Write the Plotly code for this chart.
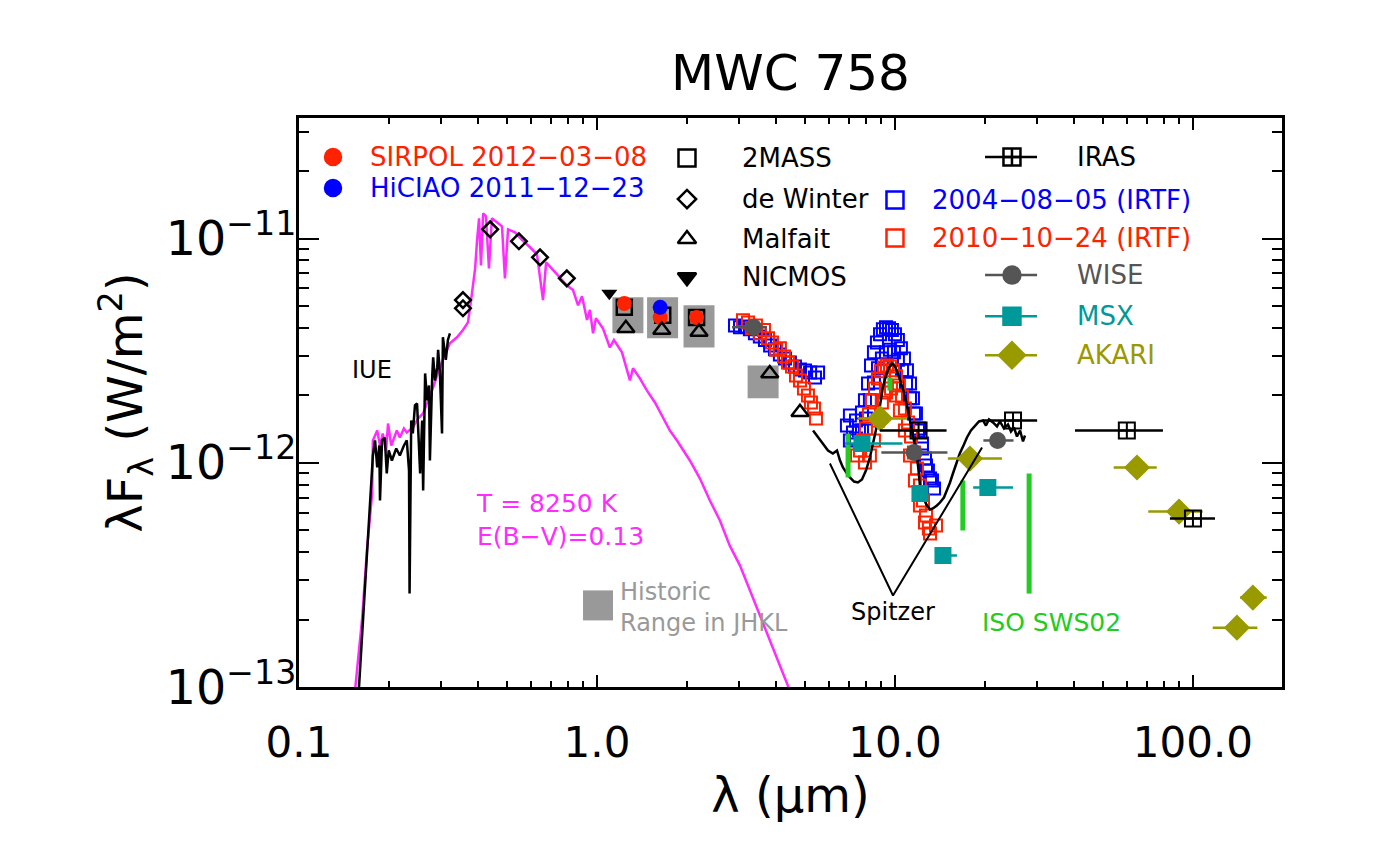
import numpy as np
import plotly.graph_objects as go

# wavelengths in micron, lambda*F_lambda in units of 1e-12 W/m^2

# Kurucz model (T = 8250 K, E(B-V)=0.13)
model_lam = [0.153, 0.163, 0.169, 0.176, 0.177, 0.183, 0.187, 0.191, 0.196, 0.199, 0.204, 0.207, 0.213,
             0.218, 0.225, 0.230, 0.241, 0.251, 0.261, 0.271, 0.282, 0.293, 0.304, 0.321, 0.339, 0.355,
             0.369, 0.378, 0.384, 0.390, 0.396, 0.402, 0.408, 0.415, 0.424, 0.434, 0.444, 0.462, 0.480,
             0.491, 0.503, 0.531, 0.560, 0.596, 0.629, 0.659, 0.675, 0.712, 0.751, 0.792, 0.831, 0.864,
             0.891, 0.926, 0.947, 0.970, 0.992, 1.047, 1.105, 1.14, 1.213, 1.29, 1.321, 1.393, 1.472,
             1.565, 1.665, 1.757, 1.856, 2.05, 2.216, 2.393, 2.586, 2.79, 3.02, 3.26, 3.52, 3.81, 4.11, 4.44]
model_flux = [0.087, 0.204, 0.406, 0.729, 1.258, 1.394, 1.195, 1.352, 1.135, 1.497, 1.195, 1.258, 1.394,
              1.297, 1.422, 1.366, 1.437, 1.577, 1.660, 1.90, 2.169, 2.530, 2.88, 3.41, 3.63, 3.91,
              4.23, 5.32, 6.32, 7.37, 9.87, 12.32, 7.60, 12.97, 12.58, 7.37, 12.32, 11.82, 11.35,
              6.65, 11.0, 10.67, 9.87, 9.15, 8.51, 5.32, 7.84, 7.25, 6.72, 6.19, 5.90, 5.04,
              5.53, 4.34, 4.81, 3.78, 4.41, 3.98, 3.27, 3.53, 3.11, 2.33, 2.64, 2.38, 2.10,
              1.858, 1.593, 1.394, 1.258, 1.024, 0.851, 0.679, 0.553, 0.427, 0.348, 0.269, 0.208, 0.161, 0.1245, 0.0963]

# IUE spectrum
iue_lam = [0.158, 0.161, 0.164, 0.1665, 0.169, 0.172, 0.1745, 0.177, 0.180, 0.183, 0.186, 0.187, 0.190,
           0.194, 0.197, 0.200, 0.205, 0.212, 0.218, 0.225, 0.230, 0.234, 0.235, 0.238, 0.241, 0.245,
           0.249, 0.253, 0.255, 0.259, 0.261, 0.265, 0.269, 0.273, 0.275, 0.280, 0.282, 0.286, 0.291,
           0.293, 0.297, 0.302, 0.304, 0.311, 0.316, 0.321]
iue_flux = [0.087, 0.131, 0.198, 0.289, 0.427, 0.612, 0.851, 1.078, 1.258, 0.953, 1.195, 0.679, 1.258,
            1.297, 0.896, 1.135, 1.024, 1.158, 1.078, 1.195, 1.258, 0.924, 0.261, 1.545, 1.352, 1.803,
            1.840, 1.135, 0.896, 1.545, 0.752, 2.505, 1.90, 2.213, 1.024, 2.454, 2.952, 2.33, 2.664,
            3.19, 2.53, 1.352, 3.63, 2.88, 3.53, 3.78]

# Spitzer IRS spectrum
spitzer_lam = [5.31, 5.52, 5.73, 5.96, 6.19, 6.39, 6.54, 6.69, 6.90, 7.06, 7.29, 7.51, 7.75, 7.99, 8.24,
               8.50, 8.70, 8.91, 9.11, 9.33, 9.55, 9.77, 10.0, 10.23, 10.47, 10.72, 10.97, 11.23, 11.49,
               11.76, 11.95, 12.13, 12.42, 12.81, 13.11, 13.41, 13.83, 14.16, 14.60, 14.94, 15.3, 15.65,
               16.14, 16.5, 17.04, 17.44, 17.99, 18.55, 19.14, 19.74, 20.2, 20.68, 21.33, 22.0, 22.5,
               23.22, 23.95, 24.51, 25.08, 25.67, 26.3, 26.89, 27.31]
spitzer_flux = [1.394, 1.297, 1.22, 1.135, 1.10, 1.135, 1.024, 0.953, 0.896, 0.86, 0.825, 0.817, 0.843,
                0.924, 1.056, 1.258, 1.467, 1.803, 2.169, 2.454, 2.664, 2.776, 2.689, 2.505, 2.284, 2.06,
                1.803, 1.545, 1.324, 1.135, 0.973, 0.792, 0.700, 0.645, 0.619, 0.626, 0.645, 0.665, 0.700,
                0.752, 0.817, 0.896, 1.003, 1.10, 1.207, 1.297, 1.394, 1.467, 1.529, 1.545, 1.467, 1.561,
                1.513, 1.452, 1.529, 1.422, 1.483, 1.380, 1.437, 1.310, 1.394, 1.245, 1.324]

# IRTF 2004-08-05
irtf04_lam = [2.905, 3.02, 3.139, 3.26, 3.389, 3.52, 3.662, 3.81, 3.957, 4.11, 4.274, 4.44, 4.617, 4.80,
              4.99, 5.19, 5.39, 5.52,
              6.90, 7.06, 7.23, 7.40, 7.57, 7.75, 7.93, 8.12, 8.31, 8.50, 8.70, 8.91, 9.11, 9.33, 9.55,
              9.77, 10.0, 10.23, 10.47, 10.72, 10.97, 11.23, 11.49, 11.76, 12.04, 12.32, 12.61, 12.90, 13.31,
              7.06, 7.40, 7.75, 7.99, 8.24, 8.50, 8.77, 9.04, 9.33, 9.62, 9.92, 10.23, 10.56, 10.89,
              11.23, 11.58, 11.95, 12.32, 12.71, 13.11, 13.52]
irtf04_flux = [4.10, 4.02, 4.06, 3.94, 3.78, 3.66, 3.53, 3.34, 3.21, 3.04, 2.92, 2.80, 2.689, 2.61,
               2.58, 2.53, 2.40, 2.53,
               1.467, 1.626, 1.366, 1.545, 1.394, 1.677, 1.90, 2.26, 2.72, 3.11, 3.44, 3.74, 3.94, 4.02, 3.98,
               3.91, 3.74, 3.53, 3.24, 2.92, 2.59, 2.26, 1.94, 1.660, 1.422, 1.22, 1.045, 0.924, 0.834,
               1.258, 1.284, 1.394, 1.577, 1.90, 2.28, 2.64, 2.92, 3.11, 3.19, 3.11, 2.88, 2.59, 2.26,
               1.94, 1.660, 1.394, 1.158, 0.973, 0.851, 0.768]

# IRTF 2010-10-24
irtf10_lam = [3.09, 3.212, 3.312, 3.416, 3.52, 3.634, 3.749, 3.866, 3.988, 4.11, 4.242, 4.375, 4.512,
              4.654, 4.80, 4.95, 5.105, 5.225, 5.348, 5.431,
              7.46, 7.63, 7.81, 7.99, 8.18, 8.37, 8.57, 8.77, 8.97, 9.19, 9.40, 9.62, 9.85, 10.08, 10.31,
              10.56, 10.80, 11.06, 11.32, 11.58, 11.85, 12.13, 12.42, 12.71, 13.0,
              7.93, 8.24, 8.50, 8.77, 9.04, 9.33, 9.70, 10.08, 10.39, 10.80, 11.23, 11.67, 12.13, 12.61,
              13.11, 13.73]
irtf10_flux = [4.32, 4.23, 3.98, 4.10, 3.78, 3.91, 3.59, 3.44, 3.19, 3.24, 2.98, 2.80, 2.689,
               2.454, 2.33, 2.147, 1.998, 1.858, 1.747, 1.577,
               1.078, 1.135, 1.258, 1.422, 1.643, 1.90, 2.147, 2.38, 2.56, 2.664, 2.72, 2.689, 2.59, 2.43,
               2.213, 1.977, 1.747, 1.513, 1.310, 1.112, 0.943, 0.792, 0.679, 0.582, 0.509,
               1.003, 1.078, 1.258, 1.545, 1.858, 2.06, 2.147, 1.998, 1.71, 1.394, 1.078, 0.834, 0.645,
               0.541, 0.484, 0.525]

# ISO SWS02 segments (wavelength, low, high)
iso_lam = [6.96, 9.62, 16.9, 28.2]
iso_lo = [0.86, 2.10, 0.499, 0.261]
iso_hi = [1.35, 2.40, 0.834, 0.896]

# photometry
dewinter_lam = [0.355, 0.355, 0.438, 0.547, 0.644, 0.792]
dewinter_flux = [5.32, 4.89, 11.0, 9.73, 8.25, 6.65]

twomass_lam = [1.235, 1.662, 2.159]
twomass_flux = [4.94, 4.55, 4.45]

sirpol_lam = [1.235, 1.63, 2.159]
sirpol_flux = [5.14, 4.45, 4.45]

hiciao_lam = [1.63]
hiciao_flux = [4.94]

malfait_lam = [1.25, 1.65, 2.2, 3.8, 4.8]
malfait_flux = [3.98, 3.91, 3.83, 2.50, 1.68]

nicmos_lam = [1.1]
nicmos_flux = [5.70]

hist_lam = [1.27, 1.66, 2.20, 3.61]
hist_lo = [3.78, 3.59, 3.27, 1.94]
hist_hi = [5.47, 5.47, 5.04, 2.72]

wise_lam = [3.35, 11.6, 22.1]
wise_flux = [4.02, 1.112, 1.258]
wise_minus = [0.51, 2.6, 2.3]
wise_plus = [0.37, 3.4, 2.9]

msx_lam = [7.75, 12.13, 14.49, 20.5]
msx_flux = [1.22, 0.729, 0.386, 0.776]
msx_minus = [0.95, 0.6, 0.66, 2.2]
msx_plus = [2.85, 0.6, 1.65, 4.4]

akari_lam = [8.91, 17.85, 64.9, 89.8, 140.5, 158.9]
akari_flux = [1.577, 1.045, 0.953, 0.606, 0.184, 0.2505]
akari_minus = [1.4, 2.8, 10.7, 19.0, 24.0, 15.0]
akari_plus = [2.06, 5.0, 10.7, 18.0, 24.0, 18.0]

iras_lam = [12.0, 24.9, 60.0, 100.0]
iras_flux = [1.394, 1.545, 1.394, 0.564]
iras_minus = [3.1, 5.2, 19.8, 16.3]
iras_plus = [2.9, 5.1, 19.3, 18.6]

# pointer lines for the "Spitzer" label
spitzer_ptr_lam = [6.05, 9.85, 19.6]
spitzer_ptr_flux = [0.993, 0.256, 1.17]

FONT = "DejaVu Sans"
RED = "#ff2200"
BLUE = "#0000ff"
MAGENTA = "#ff2bff"
GRAY = "#999999"
WISE_C = "#555555"
TEAL = "#009999"
OLIVE = "#999900"
GREEN = "#22cc22"


def si(vals):
    return [None if v is None else v * 1e-12 for v in vals]


fig = go.Figure()

# historic range boxes (fixed width in log space)
half = 10 ** 0.052
hx, hy = [], []
for lam, lo, hi in zip(hist_lam, hist_lo, hist_hi):
    hx += [lam / half, lam * half, lam * half, lam / half, lam / half, None]
    hy += [lo, lo, hi, hi, lo, None]
fig.add_trace(go.Scatter(x=hx, y=si(hy), mode="lines", fill="toself", fillcolor=GRAY,
                         line=dict(width=0), showlegend=False))

# spectra
fig.add_trace(go.Scatter(x=model_lam, y=si(model_flux), mode="lines",
                         line=dict(color=MAGENTA, width=2.5), showlegend=False))
fig.add_trace(go.Scatter(x=iue_lam, y=si(iue_flux), mode="lines",
                         line=dict(color="black", width=2.5), showlegend=False))
fig.add_trace(go.Scatter(x=irtf04_lam, y=si(irtf04_flux), mode="markers",
                         marker=dict(symbol="square-open", size=12, color=BLUE, line=dict(width=2)),
                         showlegend=False))
fig.add_trace(go.Scatter(x=irtf10_lam, y=si(irtf10_flux), mode="markers",
                         marker=dict(symbol="square-open", size=12, color=RED, line=dict(width=2)),
                         showlegend=False))
fig.add_trace(go.Scatter(x=spitzer_lam, y=si(spitzer_flux), mode="lines",
                         line=dict(color="black", width=2.5), showlegend=False))

# ISO vertical segments
gx, gy = [], []
for lam, lo, hi in zip(iso_lam, iso_lo, iso_hi):
    gx += [lam, lam, None]
    gy += [lo, hi, None]
fig.add_trace(go.Scatter(x=gx, y=si(gy), mode="lines", line=dict(color=GREEN, width=5),
                         showlegend=False))

# photometry
fig.add_trace(go.Scatter(x=dewinter_lam, y=si(dewinter_flux), mode="markers",
                         marker=dict(symbol="diamond-open", size=12, color="black", line=dict(width=2.5)),
                         showlegend=False))
fig.add_trace(go.Scatter(x=twomass_lam, y=si(twomass_flux), mode="markers",
                         marker=dict(symbol="square-open", size=15, color="black", line=dict(width=2.5)),
                         showlegend=False))
fig.add_trace(go.Scatter(x=sirpol_lam, y=si(sirpol_flux), mode="markers",
                         marker=dict(symbol="circle", size=15, color=RED), showlegend=False))
fig.add_trace(go.Scatter(x=hiciao_lam, y=si(hiciao_flux), mode="markers",
                         marker=dict(symbol="circle", size=15, color=BLUE), showlegend=False))
fig.add_trace(go.Scatter(x=malfait_lam, y=si(malfait_flux), mode="markers",
                         marker=dict(symbol="triangle-up-open", size=15, color="black", line=dict(width=2.5)),
                         showlegend=False))
fig.add_trace(go.Scatter(x=nicmos_lam, y=si(nicmos_flux), mode="markers",
                         marker=dict(symbol="triangle-down", size=14, color="black"), showlegend=False))


def with_xerr(lam, flux, minus, plus, color, symbol, size):
    fig.add_trace(go.Scatter(
        x=lam, y=si(flux), mode="markers",
        marker=dict(symbol=symbol, size=size, color=color, line=dict(width=2, color=color)),
        error_x=dict(type="data", symmetric=False, array=plus, arrayminus=minus,
                     color=color, thickness=2.5, width=0),
        showlegend=False))


with_xerr(wise_lam, wise_flux, wise_minus, wise_plus, WISE_C, "circle", 15)
with_xerr(msx_lam, msx_flux, msx_minus, msx_plus, TEAL, "square", 15)
with_xerr(akari_lam, akari_flux, akari_minus, akari_plus, OLIVE, "diamond", 18)
with_xerr(iras_lam, iras_flux, iras_minus, iras_plus, "black", "square-cross-open", 16)

fig.add_trace(go.Scatter(x=spitzer_ptr_lam, y=si(spitzer_ptr_flux), mode="lines",
                         line=dict(color="black", width=2), showlegend=False))

# ---- hand-made legend on an overlay axis (0..1 over the plot area) ----
marker_items = [
    # x, y, symbol, size, color, label, text x, text color
    (0.0346, 0.9314, "circle", 16, RED, "SIRPOL 2012−03−08", 0.0702, RED),
    (0.0346, 0.8769, "circle", 16, BLUE, "HiCIAO 2011−12−23", 0.0702, BLUE),
    (0.3947, 0.9296, "square-open", 17, "black", "2MASS", 0.4486, "black"),
    (0.3947, 0.8575, "diamond-open", 14, "black", "de Winter", 0.4486, "black"),
    (0.3947, 0.7872, "triangle-up-open", 16, "black", "Malfait", 0.4486, "black"),
    (0.3947, 0.7203, "triangle-down", 16, "black", "NICMOS", 0.4486, "black"),
    (0.6063, 0.8558, "square-open", 17, BLUE, "2004−08−05 (IRTF)", 0.6419, BLUE),
    (0.6063, 0.7889, "square-open", 17, RED, "2010−10−24 (IRTF)", 0.6419, RED),
]
line_items = [
    (0.9314, "square-cross-open", 17, "black", "IRAS", "black"),
    (0.7239, "circle", 17, WISE_C, "WISE", WISE_C),
    (0.6517, "square", 17, TEAL, "MSX", TEAL),
    (0.5831, "diamond", 20, OLIVE, "AKARI", OLIVE),
]

annotations = []
for x, y, sym, size, col, label, tx, tcol in marker_items:
    fig.add_trace(go.Scatter(x=[x], y=[y], xaxis="x2", yaxis="y2", mode="markers",
                             marker=dict(symbol=sym, size=size, color=col, line=dict(width=2.5, color=col)),
                             showlegend=False))
    annotations.append(dict(x=tx, y=y, text=label, xanchor="left",
                            font=dict(size=26, color=tcol, family=FONT)))

for y, sym, size, col, label, tcol in line_items:
    fig.add_trace(go.Scatter(x=[0.6979, 0.7508], y=[y, y], xaxis="x2", yaxis="y2", mode="lines",
                             line=dict(color=col, width=2.5), showlegend=False))
    fig.add_trace(go.Scatter(x=[0.7253], y=[y], xaxis="x2", yaxis="y2", mode="markers",
                             marker=dict(symbol=sym, size=size, color=col, line=dict(width=2.5, color=col)),
                             showlegend=False))
    annotations.append(dict(x=0.7894, y=y, text=label, xanchor="left",
                            font=dict(size=26, color=tcol, family=FONT)))

# historic range key
fig.add_trace(go.Scatter(x=[0.3042], y=[0.1434], xaxis="x2", yaxis="y2", mode="markers",
                         marker=dict(symbol="square", size=30, color=GRAY), showlegend=False))

annotations += [
    dict(x=0.3245, y=0.139, text="Historic<br>Range in JHKL", font=dict(size=24, color=GRAY, family=FONT),
         xanchor="left", align="left"),
    dict(x=0.0743, y=0.5567, text="IUE", font=dict(size=24, color="black", family=FONT), xanchor="center"),
    dict(x=0.178, y=0.2929, text="T = 8250 K<br>E(B−V)=0.13", font=dict(size=25, color=MAGENTA, family=FONT),
         xanchor="left", align="left"),
    dict(x=0.6043, y=0.131, text="Spitzer", font=dict(size=24, color="black", family=FONT), xanchor="center"),
    dict(x=0.766, y=0.1135, text="ISO SWS02", font=dict(size=25, color=GREEN, family=FONT), xanchor="center"),
]
for a in annotations:
    a.setdefault("xref", "paper")
    a.setdefault("yref", "paper")
    a.setdefault("showarrow", False)
    a.setdefault("yanchor", "middle")

axis_common = dict(
    showline=True, linecolor="black", linewidth=3, mirror="allticks",
    ticks="inside", tickcolor="black", tickwidth=2,
    showgrid=False, zeroline=False,
)

fig.update_layout(
    width=1389, height=857,
    margin=dict(l=291, r=115, t=110, b=178),
    paper_bgcolor="white",
    plot_bgcolor="white",
    font=dict(family=FONT, color="black"),
    title=dict(text="MWC 758", x=0.5, xref="paper", xanchor="center",
               y=1 - 64 / 857, yref="container", yanchor="middle",
               font=dict(size=50, family=FONT, color="black")),
    xaxis=dict(
        type="log", range=[-1, np.log10(199)], dtick=1, tickformat=".1f",
        ticklen=12, minor=dict(ticks="inside", ticklen=6, tickwidth=2, tickcolor="black", dtick="D1"),
        tickfont=dict(size=42, family=FONT), ticklabelstandoff=17,
        title=dict(text="λ (μm)", font=dict(size=48, family=FONT), standoff=0),
        **axis_common),
    yaxis=dict(
        type="log", range=[-13, -10.462], dtick=1, exponentformat="power",
        ticklen=20, minor=dict(ticks="inside", ticklen=10, tickwidth=2, tickcolor="black", dtick="D1"),
        tickfont=dict(size=38, family=FONT), ticklabelstandoff=-8,
        title=dict(text="λF<sub>λ</sub> (W/m<sup>2</sup>)", font=dict(size=48, family=FONT), standoff=8),
        **axis_common),
    xaxis2=dict(overlaying="x", range=[0, 1], visible=False),
    yaxis2=dict(overlaying="y", range=[0, 1], visible=False),
    annotations=annotations,
    # thin light frame strip on the right edge of the card
    shapes=[dict(type="rect", xref="paper", yref="paper", x0=1.1007, x1=1.3, y0=-0.5, y1=1.5,
                 fillcolor="#e2e9f3", line=dict(width=0), layer="above")],
    showlegend=False,
)

fig.write_html("out.html")
